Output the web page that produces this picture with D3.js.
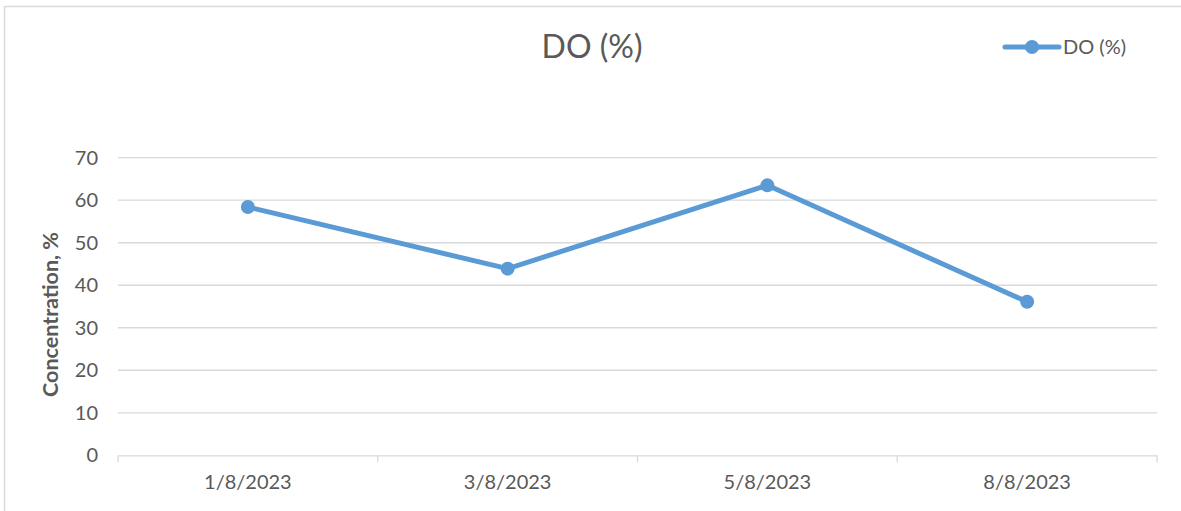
<!DOCTYPE html>
<html>
<head>
<meta charset="utf-8">
<script src="https://cdn.jsdelivr.net/npm/d3@7"></script>
<style>
  body { margin: 0; background: #fff; }
  text { font-family: Lato, "Open Sans", sans-serif; fill: #595959; }
</style>
</head>
<body>
<svg id="chart" width="1181" height="511"></svg>
<script>
// donnees
const dates = ["1/8/2023", "3/8/2023", "5/8/2023", "8/8/2023"]
const doValues = [58.4, 43.9, 63.5, 36.1]
const yTicks = [0, 10, 20, 30, 40, 50, 60, 70]

const svg = d3.select("#chart")
const plotLeft = 118, plotRight = 1157, plotTop = 157.7, plotBottom = 455.3

// cadre du graphique
svg.append("rect")
    .attr("x", 4.5).attr("y", 6.5)
    .attr("width", 1190).attr("height", 520)
    .attr("fill", "none")
    .attr("stroke", "#d9d9d9")
    .attr("stroke-width", 1.5)

const x = d3.scaleBand().domain(dates).range([plotLeft, plotRight])
const y = d3.scaleLinear().domain([0, 70]).range([plotBottom, plotTop])

// lignes de grille
svg.append("g")
    .selectAll("line")
    .data(yTicks.filter(d => d > 0))
    .enter()
    .append("line")
    .attr("x1", plotLeft).attr("x2", plotRight)
    .attr("y1", d => y(d)).attr("y2", d => y(d))
    .style("stroke", "#d9d9d9")
    .style("stroke-width", 1.3)

// axe y (labels seulement)
const yAxis = svg.append("g")
    .attr("transform", `translate(${plotLeft},0)`)
    .call(d3.axisLeft(y).tickValues(yTicks).tickSize(0).tickPadding(20))
yAxis.select(".domain").remove()
yAxis.selectAll("text")
    .style("font-size", "20px")
    .style("fill", "#595959")
    .style("font-family", "Lato, 'Open Sans', sans-serif")

// axe x
const xAxis = svg.append("g")
    .attr("transform", `translate(0,${plotBottom})`)
    .call(d3.axisBottom(x).tickSize(0).tickPadding(20))
xAxis.select(".domain").attr("stroke", "#d9d9d9").attr("stroke-width", 1.3)
xAxis.selectAll("text")
    .style("font-size", "20px")
    .style("fill", "#595959")
    .style("font-family", "Lato, 'Open Sans', sans-serif")

// petites graduations aux limites des categories
const bounds = dates.map(d => x(d)).concat([x(dates[dates.length - 1]) + x.bandwidth()])
svg.append("g")
    .selectAll("line")
    .data(bounds)
    .enter()
    .append("line")
    .attr("x1", d => d).attr("x2", d => d)
    .attr("y1", plotBottom).attr("y2", plotBottom + 7)
    .style("stroke", "#d9d9d9")
    .style("stroke-width", 1.3)

// ligne de la serie
const cx = d => x(d) + x.bandwidth() / 2
const line = d3.line()
    .x((d, i) => cx(dates[i]))
    .y(d => y(d))

svg.append("path")
    .datum(doValues)
    .attr("d", line)
    .attr("fill", "none")
    .style("stroke", "#5b9bd5")
    .style("stroke-width", 5)
    .style("stroke-linejoin", "round")

svg.append("g")
    .selectAll("circle")
    .data(doValues)
    .enter()
    .append("circle")
    .attr("cx", (d, i) => cx(dates[i]))
    .attr("cy", d => y(d))
    .attr("r", 7)
    .attr("fill", "#5b9bd5")

// titre
svg.append("text")
    .attr("x", 592).attr("y", 58)
    .attr("text-anchor", "middle")
    .style("font-size", "32px")
    .text("DO (%)")

// titre de l'axe y
svg.append("text")
    .attr("transform", `translate(58,${(plotTop + plotBottom) / 2 + 8}) rotate(-90)`)
    .attr("text-anchor", "middle")
    .style("font-size", "21.5px")
    .style("font-weight", "bold")
    .text("Concentration, %")

// legende
const lg = svg.append("g").attr("transform", "translate(1005,47)")
lg.append("line")
    .attr("x1", 0).attr("x2", 54)
    .attr("y1", 0).attr("y2", 0)
    .style("stroke", "#5b9bd5")
    .style("stroke-width", 5)
    .style("stroke-linecap", "round")
lg.append("circle").attr("cx", 27).attr("cy", 0).attr("r", 7).attr("fill", "#5b9bd5")
lg.append("text")
    .attr("x", 58).attr("y", 7)
    .style("font-size", "20px")
    .text("DO (%)")
</script>
</body>
</html>
